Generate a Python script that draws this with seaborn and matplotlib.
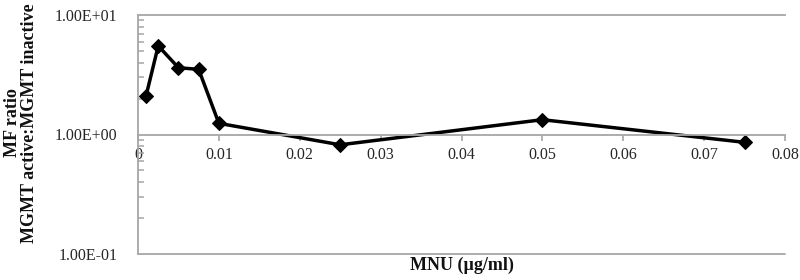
import matplotlib
matplotlib.use("Agg")
import matplotlib.pyplot as plt
import matplotlib.ticker as mticker
import seaborn as sns
import pandas as pd

# Data
mnu = [0.001, 0.0025, 0.005, 0.0075, 0.01, 0.025, 0.05, 0.075]
mf_ratio = [2.11, 5.52, 3.62, 3.51, 1.24, 0.82, 1.33, 0.86]
x_ticks = [0, 0.01, 0.02, 0.03, 0.04, 0.05, 0.06, 0.07, 0.08]
x_tick_labels = ["0", "0.01", "0.02", "0.03", "0.04", "0.05", "0.06", "0.07", "0.08"]
y_ticks = [0.1, 1, 10]
y_tick_labels = ["1.00E-01", "1.00E+00", "1.00E+01"]

sns.set_style("white")
plt.rcParams['font.family'] = ['Liberation Serif', 'DejaVu Serif']

df = pd.DataFrame({"MNU": mnu, "ratio": mf_ratio})

fig = plt.figure(figsize=(8, 2.8), dpi=100)
ax = fig.add_axes([138/800, 1-254/280, (785-138)/800, (254-15)/280])

sns.lineplot(data=df, x="MNU", y="ratio", ax=ax, color="black", linewidth=2.5,
             marker="D", markersize=7, markeredgecolor="black", markerfacecolor="black",
             legend=False)

ax.set_yscale("log")
ax.set_ylim(0.1, 10)
ax.set_xlim(0, 0.08)

axis_col = "#a6a6a6"
ax.spines["right"].set_visible(False)
for s in ["left", "top", "bottom"]:
    ax.spines[s].set_color(axis_col)
    ax.spines[s].set_linewidth(1.3)
ax.spines["bottom"].set_position(("data", 1))
ax.axhline(0.1, color=axis_col, linewidth=1.3, zorder=0, clip_on=False)

ax.set_xticks(x_ticks)
ax.set_xticklabels(x_tick_labels)
ax.set_yticks(y_ticks)
ax.set_yticklabels(y_tick_labels)
ax.yaxis.set_minor_locator(mticker.LogLocator(base=10, subs=[2, 3, 4, 5, 6, 7, 8, 9]))
ax.yaxis.set_minor_formatter(mticker.NullFormatter())

ax.tick_params(axis="x", which="major", direction="out", length=4, width=1.2,
               color=axis_col, labelsize=11.5, labelcolor="#262626", pad=5, bottom=True)
ax.tick_params(axis="y", which="major", direction="out", length=0, labelsize=11.5,
               labelcolor="#262626", pad=15, left=True)
ax.tick_params(axis="y", which="minor", direction="in", length=4, width=1.1,
               color=axis_col, left=True)

ax.set_xlabel("")
ax.set_ylabel("")
fig.text(462/800, 1-265/280, "MNU (µg/ml)", ha="center", va="center",
         fontsize=13, fontweight="bold", color="#111111")
fig.text(21/800, 1-123/280, "MF ratio\nMGMT active:MGMT inactive", ha="center", va="center",
         rotation=90, fontsize=13, fontweight="bold", color="#111111",
         multialignment="center", linespacing=1.05)

fig.savefig("out.png", dpi=100)
